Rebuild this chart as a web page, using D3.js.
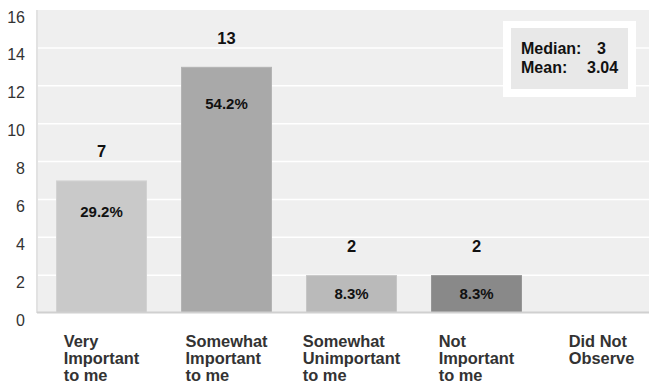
<!DOCTYPE html>
<html>
<head>
<meta charset="utf-8">
<script src="https://cdn.jsdelivr.net/npm/d3@7"></script>
<style>
  html, body { margin: 0; padding: 0; background: #ffffff; }
  svg { display: block; font-family: "Liberation Sans", Arial, Helvetica, sans-serif; }
</style>
</head>
<body>
<svg id="chart" width="649" height="385"></svg>
<script>
// Response categories (each label split into its display lines)
const categories = [
  ["Very", "Important", "to me"],
  ["Somewhat", "Important", "to me"],
  ["Somewhat", "Unimportant", "to me"],
  ["Not", "Important", "to me"],
  ["Did Not", "Observe"]
];
const counts = [7, 13, 2, 2, 0];
const percents = ["29.2%", "54.2%", "8.3%", "8.3%", ""];
const barColors = ["#c9c9c9", "#a9a9a9", "#bababa", "#898989", "#cccccc"];
const barEdges = ["#d2d2d2", "#b4b4b4", "#c6c6c6", "#969696", "#d6d6d6"];
const yTicks = [0, 2, 4, 6, 8, 10, 12, 14, 16];
const statLabels = ["Median:", "Mean:"];
const statValues = ["3", "3.04"];

const svg = d3.select("#chart");
const plot = { left: 37, right: 649, top: 10, bottom: 313 };

const x = d3.scaleBand()
  .domain(d3.range(categories.length))
  .range([39, 664])
  .paddingInner(0.272)
  .paddingOuter(0.136);

const y = d3.scaleLinear()
  .domain([0, 16])
  .range([plot.bottom, plot.top]);

// plot background
svg.append("rect")
  .attr("x", plot.left).attr("y", plot.top)
  .attr("width", plot.right - plot.left).attr("height", plot.bottom - plot.top)
  .attr("fill", "#efefef");

// faint left edge
svg.append("rect")
  .attr("x", plot.left - 1).attr("y", plot.top)
  .attr("width", 2).attr("height", plot.bottom - plot.top)
  .attr("fill", "#e2e2e2");

// horizontal grid lines
svg.append("g")
  .selectAll("line")
  .data(yTicks.filter(t => t > 0 && t < 16))
  .join("line")
  .attr("x1", plot.left + 1).attr("x2", plot.right)
  .attr("y1", d => y(d)).attr("y2", d => y(d))
  .attr("stroke", "#ffffff").attr("stroke-width", 1.5);

// y tick labels
svg.append("g")
  .selectAll("text")
  .data(yTicks)
  .join("text")
  .attr("x", 25)
  .attr("y", d => y(d) + 7)
  .attr("dy", "0.35em")
  .attr("text-anchor", "end")
  .attr("font-size", 16)
  .attr("fill", "#333333")
  .text(d => d);

// bars
svg.append("g")
  .selectAll("rect")
  .data(counts.map((v, i) => ({ v, i })).filter(d => d.v > 0))
  .join("rect")
  .attr("x", d => x(d.i) + 0.5)
  .attr("y", d => y(d.v) + 0.5)
  .attr("width", x.bandwidth() - 1)
  .attr("height", d => y(0) - y(d.v) - 1)
  .attr("fill", d => barColors[d.i])
  .attr("stroke", d => barEdges[d.i])
  .attr("stroke-width", 1);

// baseline
svg.append("rect")
  .attr("x", plot.left).attr("y", plot.bottom - 1.5)
  .attr("width", plot.right - plot.left).attr("height", 2)
  .attr("fill", "#d0d0d0");

const labelled = counts.map((v, i) => ({ v, i })).filter(d => d.v > 0);

// count labels above bars
svg.append("g")
  .selectAll("text")
  .data(labelled)
  .join("text")
  .attr("x", d => x(d.i) + x.bandwidth() / 2)
  .attr("y", d => y(d.v) - 23)
  .attr("text-anchor", "middle")
  .attr("font-size", 16.5)
  .attr("font-weight", "bold")
  .attr("fill", "#111111")
  .text(d => d.v);

// percentage labels inside bars, nudged towards the top of tall bars
svg.append("g")
  .selectAll("text")
  .data(labelled)
  .join("text")
  .attr("x", d => x(d.i) + x.bandwidth() / 2)
  .attr("y", d => {
    const h = y(0) - y(d.v);
    return y(d.v) + Math.min(h / 2, 25 + 0.05 * h);
  })
  .attr("dy", "0.35em")
  .attr("text-anchor", "middle")
  .attr("font-size", 15)
  .attr("font-weight", "bold")
  .attr("fill", "#111111")
  .text(d => percents[d.i]);

// category labels: left-aligned block centred under each band
const catG = svg.append("g");
categories.forEach((lines, i) => {
  const t = catG.append("text")
    .attr("font-size", 16.4)
    .attr("font-weight", "bold")
    .attr("fill", "#333333");
  lines.forEach((line, k) => {
    t.append("tspan").attr("y", 347 + k * 17).text(line);
  });
  let w = 0;
  t.selectAll("tspan").each(function () { w = Math.max(w, this.getComputedTextLength()); });
  t.selectAll("tspan").attr("x", x(i) + x.bandwidth() / 2 - w / 2);
});

// summary statistics box
const box = svg.append("g");
box.append("rect")
  .attr("x", 503).attr("y", 21).attr("width", 133).attr("height", 76)
  .attr("fill", "#ffffff");
box.append("rect")
  .attr("x", 511).attr("y", 28).attr("width", 117).attr("height", 61)
  .attr("fill", "#e8e8e8");
const statX = [597, 587];
statLabels.forEach((lab, k) => {
  box.append("text")
    .attr("x", 521).attr("y", 54 + k * 18.7)
    .attr("font-size", 16).attr("font-weight", "bold").attr("fill", "#111111")
    .text(lab);
  box.append("text")
    .attr("x", statX[k]).attr("y", 54 + k * 18.7)
    .attr("font-size", 16).attr("font-weight", "bold").attr("fill", "#111111")
    .text(statValues[k]);
});
</script>
</body>
</html>
